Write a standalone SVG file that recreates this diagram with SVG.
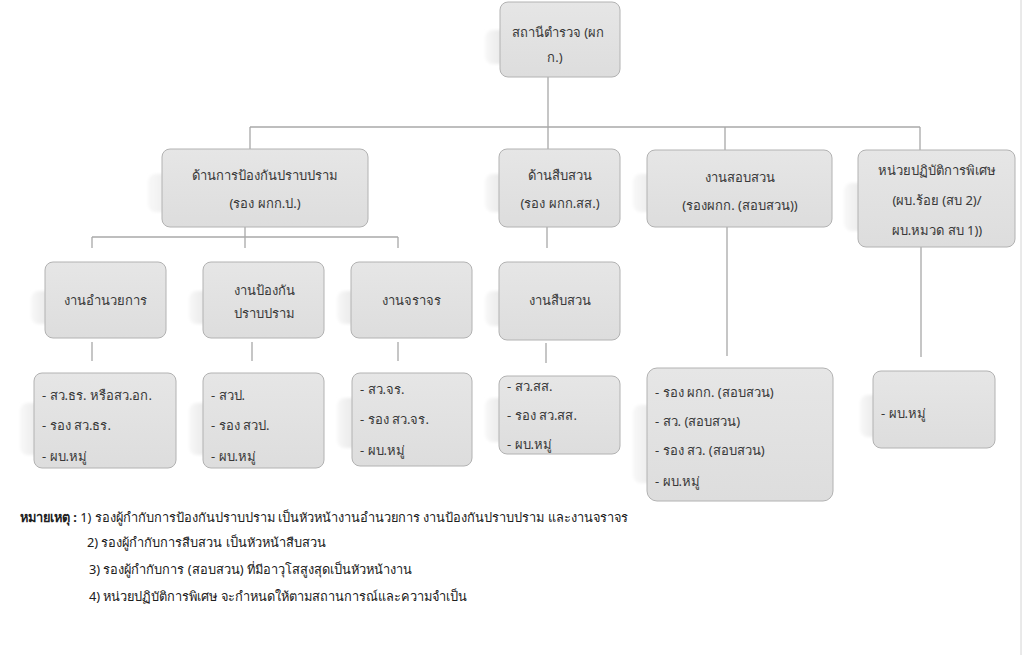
<svg xmlns="http://www.w3.org/2000/svg" width="1024" height="655" viewBox="0 0 1024 655">
<defs>
  <linearGradient id="boxFill" x1="0" y1="0" x2="0" y2="1">
    <stop offset="0" stop-color="#e6e6e6"/>
    <stop offset="1" stop-color="#dddddd"/>
  </linearGradient>
  <linearGradient id="shadowFill" x1="0" y1="0" x2="1" y2="0">
    <stop offset="0" stop-color="#f8f8f8"/>
    <stop offset="0.3" stop-color="#e8e8e8"/>
    <stop offset="1" stop-color="#e0e0e0"/>
  </linearGradient>
  <filter id="blur" x="-20%" y="-20%" width="140%" height="140%">
    <feGaussianBlur stdDeviation="1.5"/>
  </filter>
</defs>
<style>
  .box { fill: url(#boxFill); stroke: #b2b2b2; stroke-width: 1; }
  .shadow { fill: url(#shadowFill); filter: url(#blur); }
  .t { font-family: "Noto Sans", "DejaVu Sans", sans-serif; font-size: 13px; fill: #383838; }
  .c { text-anchor: middle; }
  .note { font-family: "Noto Sans", "DejaVu Sans", sans-serif; font-size: 12.8px; fill: #202020; }
  .conn line { stroke: #a8a8a8; stroke-width: 1.3; }
</style>
<rect width="1024" height="655" fill="#ffffff"/>
<line x1="1021" y1="0" x2="1021" y2="655" stroke="#d4d4d4" stroke-width="1"/>

<g id="connectors" class="conn">
  <line x1="548" y1="77" x2="548" y2="127"/>
  <line x1="250" y1="127" x2="920" y2="127"/>
  <line x1="250" y1="127" x2="250" y2="149"/>
  <line x1="548" y1="127" x2="548" y2="149"/>
  <line x1="725" y1="127" x2="725" y2="150"/>
  <line x1="920" y1="127" x2="920" y2="150"/>
  <line x1="245" y1="227" x2="245" y2="248"/>
  <line x1="92" y1="237" x2="398" y2="237"/>
  <line x1="92" y1="237" x2="92" y2="248"/>
  <line x1="398" y1="237" x2="398" y2="248"/>
  <line x1="547" y1="227" x2="547" y2="248"/>
  <line x1="727" y1="227" x2="727" y2="356"/>
  <line x1="921" y1="247" x2="921" y2="357"/>
  <line x1="92" y1="342" x2="92" y2="361"/>
  <line x1="252" y1="342" x2="252" y2="361"/>
  <line x1="398" y1="342" x2="398" y2="361"/>
  <line x1="546" y1="343" x2="546" y2="363"/>
</g>

<g id="n-station">
  <rect class="shadow" x="485" y="30" width="60" height="34" rx="8"/>
  <rect class="box" x="500" y="2" width="120" height="75" rx="8"/>
  <text class="t c" x="558" y="37">สถานีตำรวจ (ผก</text>
  <text class="t c" x="555" y="62">ก.)</text>
</g>

<g id="n-prevent">
  <rect class="shadow" x="148" y="174" width="100" height="38" rx="8"/>
  <rect class="box" x="162" y="149" width="206" height="78" rx="8"/>
  <text class="t c" x="265" y="180">ด้านการป้องกันปราบปราม</text>
  <text class="t c" x="265" y="208">(รอง ผกก.ป.)</text>
</g>

<g id="n-invest">
  <rect class="shadow" x="485" y="174" width="60" height="38" rx="8"/>
  <rect class="box" x="499" y="149" width="121" height="78" rx="8"/>
  <text class="t c" x="560" y="180">ด้านสืบสวน</text>
  <text class="t c" x="560" y="208">(รอง ผกก.สส.)</text>
</g>

<g id="n-inquiry">
  <rect class="shadow" x="633" y="174" width="80" height="38" rx="8"/>
  <rect class="box" x="647" y="150" width="185" height="77" rx="8"/>
  <text class="t c" x="740" y="182">งานสอบสวน</text>
  <text class="t c" x="740" y="210">(รองผกก. (สอบสวน))</text>
</g>

<g id="n-special">
  <rect class="shadow" x="844" y="183" width="70" height="48" rx="8"/>
  <rect class="box" x="858" y="150" width="157" height="97" rx="8"/>
  <text class="t c" x="937" y="175">หน่วยปฏิบัติการพิเศษ</text>
  <text class="t c" x="937" y="205">(ผบ.ร้อย (สบ 2)/</text>
  <text class="t c" x="937" y="235">ผบ.หมวด สบ 1))</text>
</g>

<g id="n-admin">
  <rect class="shadow" x="31" y="291" width="60" height="33" rx="8"/>
  <rect class="box" x="45" y="262" width="121" height="76" rx="8"/>
  <text class="t c" x="105" y="305">งานอำนวยการ</text>
</g>

<g id="n-patrol">
  <rect class="shadow" x="189" y="291" width="60" height="33" rx="8"/>
  <rect class="box" x="203" y="262" width="121" height="76" rx="8"/>
  <text class="t c" x="264" y="295">งานป้องกัน</text>
  <text class="t c" x="264" y="318">ปราบปราม</text>
</g>

<g id="n-traffic">
  <rect class="shadow" x="337" y="291" width="60" height="33" rx="8"/>
  <rect class="box" x="351" y="262" width="121" height="76" rx="8"/>
  <text class="t c" x="411" y="305">งานจราจร</text>
</g>

<g id="n-invwork">
  <rect class="shadow" x="485" y="291" width="60" height="35" rx="8"/>
  <rect class="box" x="499" y="262" width="121" height="78" rx="8"/>
  <text class="t c" x="560" y="305">งานสืบสวน</text>
</g>

<g id="n-admin-staff">
  <rect class="shadow" x="20" y="403" width="70" height="52" rx="8"/>
  <rect class="box" x="34" y="373" width="142" height="95" rx="8"/>
  <text class="t" x="42" y="400">- สว.ธร. หรือสว.อก.</text>
  <text class="t" x="42" y="430">- รอง สว.ธร.</text>
  <text class="t" x="42" y="461">- ผบ.หมู่</text>
</g>

<g id="n-patrol-staff">
  <rect class="shadow" x="189" y="403" width="60" height="52" rx="8"/>
  <rect class="box" x="203" y="373" width="121" height="95" rx="8"/>
  <text class="t" x="211" y="400">- สวป.</text>
  <text class="t" x="211" y="430">- รอง สวป.</text>
  <text class="t" x="211" y="461">- ผบ.หมู่</text>
</g>

<g id="n-traffic-staff">
  <rect class="shadow" x="337" y="398" width="60" height="50" rx="8"/>
  <rect class="box" x="352" y="373" width="120" height="93" rx="8"/>
  <text class="t" x="360" y="394">- สว.จร.</text>
  <text class="t" x="360" y="424">- รอง สว.จร.</text>
  <text class="t" x="360" y="455">- ผบ.หมู่</text>
</g>

<g id="n-invwork-staff">
  <rect class="shadow" x="485" y="398" width="60" height="44" rx="8"/>
  <rect class="box" x="499" y="376" width="121" height="78" rx="8"/>
  <text class="t" x="507" y="391">- สว.สส.</text>
  <text class="t" x="507" y="420">- รอง สว.สส.</text>
  <text class="t" x="507" y="449">- ผบ.หมู่</text>
</g>

<g id="n-inquiry-staff">
  <rect class="shadow" x="633" y="405" width="80" height="78" rx="8"/>
  <rect class="box" x="647" y="368" width="186" height="133" rx="10"/>
  <text class="t" x="655" y="397">- รอง ผกก. (สอบสวน)</text>
  <text class="t" x="655" y="426">- สว. (สอบสวน)</text>
  <text class="t" x="655" y="455">- รอง สว. (สอบสวน)</text>
  <text class="t" x="655" y="486">- ผบ.หมู่</text>
</g>

<g id="n-special-staff">
  <rect class="shadow" x="860" y="395" width="60" height="42" rx="8"/>
  <rect class="box" x="873" y="371" width="122" height="77" rx="8"/>
  <text class="t" x="881" y="418">- ผบ.หมู่</text>
</g>

<g id="notes">
  <text class="note" x="20" y="522"><tspan font-weight="bold">หมายเหตุ :</tspan> 1) รองผู้กำกับการป้องกันปราบปราม เป็นหัวหน้างานอำนวยการ งานป้องกันปราบปราม และงานจราจร</text>
  <text class="note" x="87" y="547">2) รองผู้กำกับการสืบสวน เป็นหัวหน้าสืบสวน</text>
  <text class="note" x="89" y="574">3) รองผู้กำกับการ (สอบสวน) ที่มีอาวุโสสูงสุดเป็นหัวหน้างาน</text>
  <text class="note" x="89" y="601">4) หน่วยปฏิบัติการพิเศษ จะกำหนดให้ตามสถานการณ์และความจำเป็น</text>
</g>
</svg>
